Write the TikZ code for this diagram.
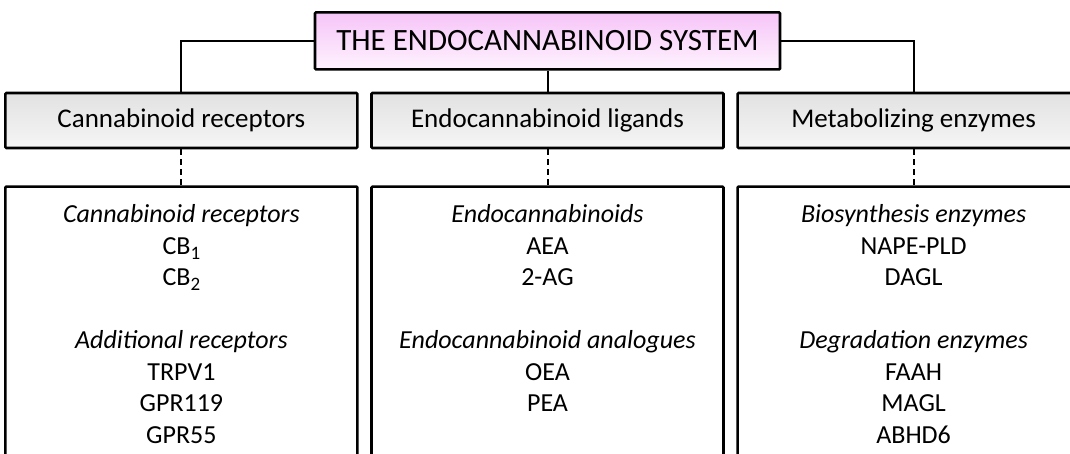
\documentclass[tikz,border=0pt]{standalone}
\usepackage{fontspec}
\setmainfont{Carlito}
\usepackage{tikz}
\usetikzlibrary{positioning}
\definecolor{ecpink}{RGB}{246,196,248}
\definecolor{ecpinklight}{RGB}{254,243,254}
\definecolor{ecgray}{RGB}{226,226,226}
\definecolor{ecgraylight}{RGB}{245,245,245}
\newcommand{\ecsub}[1]{\raisebox{-0.4ex}{\fontsize{19}{19}\selectfont #1}}

\begin{document}
\begin{tikzpicture}[
  x=1pt, y=1pt,
  node distance=36pt and 11.5pt,
  every node/.style={font=\fontsize{26}{31.5}\selectfont},
  frame/.style={draw=black, line width=2.6pt, rounded corners=1pt},
  sysbox/.style={frame, top color=ecpink, bottom color=ecpinklight,
    minimum width=465pt, minimum height=57pt, font=\fontsize{31}{36}\selectfont},
  groupbox/.style={frame, top color=ecgray, bottom color=ecgraylight,
    minimum width=352pt, minimum height=55pt, font=\fontsize{27}{32}\selectfont},
  listbox/.style={frame, fill=white, minimum width=352pt, align=center,
    inner ysep=18pt, text depth=270pt},
  link/.style={draw=black, line width=2pt},
  dashlink/.style={link, dash pattern=on 6pt off 4pt}
]
  \clip (0,0) rectangle (1070,-453);

  % middle row of groups
  \node[groupbox] (ligands) at (547.5,-120.5) {Endocannabinoid ligands};
  \node[groupbox, left=of ligands] (receptors) {Cannabinoid receptors};
  \node[groupbox, right=of ligands] (enzymes) {Metabolizing enzymes};

  \node[sysbox, above=21pt of ligands] (system) {THE ENDOCANNABINOID SYSTEM};

  \draw[link] (system.west) -| (receptors.north);
  \draw[link] (system.south) -- (ligands.north);
  \draw[link] (system.east) -| (enzymes.north);

  % lists
  \node[listbox, below=of receptors] (reclist) {\textit{Cannabinoid receptors}\\
    CB\ecsub{1}\\ CB\ecsub{2}\\[31.5pt]
    \textit{Additional receptors}\\ TRPV1\\ GPR119\\ GPR55};
  \node[listbox, below=of ligands] (liglist) {\textit{Endocannabinoids}\\
    AEA\\ 2-AG\\[31.5pt]
    \textit{Endocannabinoid analogues}\\ OEA\\ PEA};
  \node[listbox, below=of enzymes] (enzlist) {\textit{Biosynthesis enzymes}\\
    NAPE-PLD\\ DAGL\\[31.5pt]
    \textit{Degradation enzymes}\\ FAAH\\ MAGL\\ ABHD6};

  \draw[dashlink] (receptors.south) -- (reclist.north);
  \draw[dashlink] (ligands.south) -- (liglist.north);
  \draw[dashlink] (enzymes.south) -- (enzlist.north);
\end{tikzpicture}
\end{document}
